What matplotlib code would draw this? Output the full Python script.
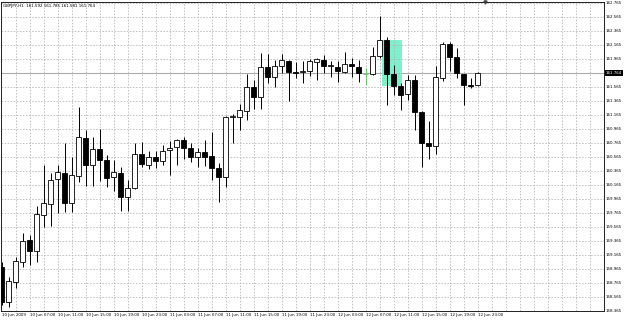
import matplotlib
matplotlib.use("Agg")
import matplotlib.pyplot as plt
from matplotlib.patches import Rectangle

# GBPJPY hourly bars, 10 Jun 03:00 .. 12 Jun 23:00 2009
title = "GBPJPY,H1  161.592 161.785 161.581 161.764"

opens = [158.994, 158.494, 158.779, 159.065, 159.379, 159.222, 159.736, 159.894, 160.251, 160.336,
         159.908, 160.294, 160.836, 160.451, 160.679, 160.522, 160.279, 160.336, 159.994, 160.122,
         160.608, 160.451, 160.565, 160.508, 160.665, 160.708, 160.808, 160.694, 160.565, 160.636,
         160.579, 160.408, 160.279, 161.137, 161.137, 161.222, 161.565, 161.422, 161.851, 161.708,
         161.865, 161.936, 161.779, 161.779, 161.794, 161.922, 161.951, 161.865, 161.851, 161.779,
         161.894, 161.851, 161.751, 161.751, 162.008, 162.236, 161.751, 161.579, 161.465, 161.665,
         161.208, 160.765, 160.722, 161.694, 162.179, 161.994, 161.751, 161.594, 161.592]
highs = [159.065, 158.851, 159.137, 159.479, 159.451, 159.865, 160.451, 160.336, 160.451, 160.765,
         160.565, 161.279, 160.951, 160.851, 160.965, 160.594, 160.522, 160.422, 160.236, 160.765,
         160.779, 160.651, 160.651, 160.736, 160.794, 160.822, 160.851, 160.765, 160.694, 160.808,
         160.922, 160.479, 161.151, 161.179, 161.322, 161.751, 161.665, 162.051, 162.036, 161.951,
         162.036, 161.951, 161.922, 161.936, 161.965, 161.979, 162.022, 161.936, 161.936, 162.065,
         161.979, 161.951, 161.836, 162.136, 162.579, 162.279, 161.879, 161.622, 161.736, 161.736,
         161.215, 161.079, 161.865, 162.208, 162.208, 162.122, 161.751, 161.694, 161.785]
lows = [158.450, 158.422, 158.694, 158.994, 159.022, 159.065, 159.565, 159.579, 159.765, 159.779,
        159.779, 160.208, 160.151, 160.151, 160.222, 160.136, 160.079, 159.794, 159.794, 160.108,
        160.422, 160.394, 160.408, 160.451, 160.308, 160.451, 160.536, 160.494, 160.422, 160.436,
        160.236, 159.922, 160.136, 160.765, 160.951, 161.094, 161.251, 161.251, 161.622, 161.565,
        161.765, 161.365, 161.694, 161.622, 161.722, 161.665, 161.765, 161.708, 161.636, 161.765,
        161.708, 161.636, 161.594, 161.736, 161.979, 161.308, 161.451, 161.236, 161.379, 160.951,
        160.422, 160.536, 160.608, 161.651, 161.794, 161.700, 161.308, 161.551, 161.581]
closes = [158.494, 158.794, 159.079, 159.365, 159.222, 159.751, 159.908, 160.236, 160.351, 159.908,
          160.308, 160.851, 160.451, 160.679, 160.522, 160.265, 160.351, 159.994, 160.122, 160.608,
          160.465, 160.565, 160.508, 160.651, 160.694, 160.808, 160.694, 160.565, 160.636, 160.565,
          160.408, 160.279, 161.137, 161.151, 161.236, 161.565, 161.422, 161.851, 161.708, 161.865,
          161.951, 161.779, 161.765, 161.794, 161.936, 161.965, 161.865, 161.879, 161.794, 161.894,
          161.865, 161.765, 161.751, 162.008, 162.236, 161.751, 161.579, 161.451, 161.665, 161.208,
          160.765, 160.722, 161.708, 162.179, 161.994, 161.765, 161.594, 161.581, 161.764]

last_price = 161.764

time_labels = ["10 Jun 2009", "10 Jun 07:00", "10 Jun 11:00", "10 Jun 15:00", "10 Jun 19:00",
               "10 Jun 23:00", "11 Jun 03:00", "11 Jun 07:00", "11 Jun 11:00", "11 Jun 15:00",
               "11 Jun 19:00", "11 Jun 23:00", "12 Jun 03:00", "12 Jun 07:00", "12 Jun 11:00",
               "12 Jun 15:00", "12 Jun 19:00", "12 Jun 23:00"]
time_label_bars = [0, 4, 8, 12, 16, 20, 24, 28, 32, 36, 40, 44, 48, 52, 56, 60, 64, 68]

price_ticks = [162.765, 162.565, 162.365, 162.165, 161.965, 161.765, 161.565, 161.365, 161.165,
               160.965, 160.765, 160.565, 160.365, 160.165, 159.965, 159.765, 159.565, 159.365,
               159.165, 158.965, 158.765, 158.565, 158.365]

# highlighted rectangle object (bars, prices)
box_bars = (54.3, 57.2)
box_prices = (161.579, 162.236)

FS = 2.9
GRID = "#b0b0b0"

fig = plt.figure(figsize=(6.25, 3.21), dpi=100)
fig.patch.set_facecolor("white")
ax = fig.add_axes([1 / 625, 10 / 321, 603 / 625, 309 / 321])
ax.set_xlim(-0.1, 86.05)
ax.set_ylim(158.365, 162.779)

ax.set_yticks(price_ticks)
ax.set_xticks(range(2, 87, 2))
ax.tick_params(length=0, labelleft=False, labelbottom=False)
ax.grid(True, color=GRID, linestyle=(0, (2, 2)), linewidth=0.55, zorder=0)
for s in ax.spines.values():
    s.set_color("#202020")
    s.set_linewidth(0.7)

ax.axhline(last_price, color="#a8a8a8", linewidth=0.8, zorder=1)

ax.add_patch(Rectangle((box_bars[0], box_prices[0]), box_bars[1] - box_bars[0],
                       box_prices[1] - box_prices[0], facecolor="#7ff0cc",
                       edgecolor="none", zorder=1))

W = 0.68
for i, (o, h, l, c) in enumerate(zip(opens, highs, lows, closes)):
    if o == c:
        ax.vlines(i, l, h, color="#66cc66", linewidth=0.7, zorder=2)
        ax.hlines(o, i - W / 2, i + W / 2, color="#66cc66", linewidth=0.7, zorder=2)
        continue
    ax.vlines(i, l, h, color="black", linewidth=0.7, zorder=2)
    face = "white" if c > o else "black"
    ax.bar(i, abs(c - o), bottom=min(o, c), width=W, color=face,
           edgecolor="black", linewidth=0.6, zorder=3)

# chart-shift marker at the top
ax.plot([69], [162.779], marker="v", markersize=2.2, color="#404040",
        clip_on=False, zorder=4)

ax.text(0.004, 0.992, title, transform=ax.transAxes, ha="left", va="top",
        fontsize=FS, color="black")

ytr = ax.get_yaxis_transform()
for p in price_ticks:
    if abs(p - last_price) < 0.05:
        continue
    ax.text(1.003, p, f"{p:.3f}", transform=ytr, ha="left", va="center",
            fontsize=FS, color="black")
ax.text(1.003, last_price, f"{last_price:.3f}", transform=ytr, ha="left", va="center",
        fontsize=FS, color="white",
        bbox=dict(facecolor="black", edgecolor="none", pad=0.8))

xtr = ax.get_xaxis_transform()
for b, lab in zip(time_label_bars, time_labels):
    ax.text(b, -0.008, lab, transform=xtr, ha="left", va="top",
            fontsize=FS, color="black")

fig.savefig("out.png", dpi=100)
